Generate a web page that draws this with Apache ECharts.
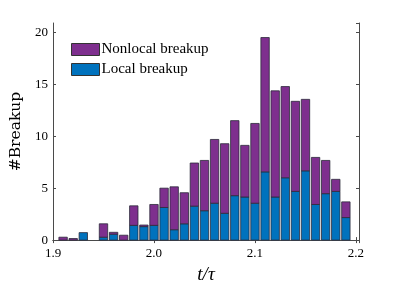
<!DOCTYPE html>
<html><head><meta charset="utf-8">
<script src="https://cdn.jsdelivr.net/npm/echarts@6/dist/echarts.min.js"></script>
<style>html,body{margin:0;padding:0;background:#fff}#c{width:399px;height:289px}</style>
</head><body><div id="c"></div>
<script>
const binCenters = [1.91,1.92,1.93,1.94,1.95,1.96,1.97,1.98,1.99,2.00,2.01,2.02,2.03,2.04,2.05,2.06,2.07,2.08,2.09,2.10,2.11,2.12,2.13,2.14,2.15,2.16,2.17,2.18,2.19];
const localBreakup = [0,0,0.72,0,0.28,0.57,0,1.42,1.3,1.42,3.14,1.0,1.57,3.27,2.83,3.55,2.58,4.28,4.15,3.55,6.57,4.15,6.0,4.69,6.67,3.43,4.47,4.69,2.17];
const nonlocalBreakup = [0.28,0.15,0,0,1.29,0.18,0.47,1.88,0.15,2.01,1.86,4.13,2.99,4.15,4.84,6.14,6.70,7.22,4.97,7.68,12.93,10.22,8.78,8.67,6.88,4.53,3.2,1.16,1.51];
const xTicks = [1.9,2.0,2.1,2.2];
const yTicks = [0,5,10,15,20];
const seriesNames = ['Local breakup','Nonlocal breakup'];

const font = 'Liberation Serif';
const font2 = 'DejaVu Serif';
const axisCol = '#4a4a4a';
const chart = echarts.init(document.getElementById('c'));
// stacked: [x, base, top]
const localData = binCenters.map((x,i)=>[x,0,localBreakup[i]]);
const nonlocalData = binCenters.map((x,i)=>[x,localBreakup[i],localBreakup[i]+nonlocalBreakup[i]]);
const barPx = 8.4;
function renderBar(params, api){
  const x = api.value(0), b = api.value(1), t = api.value(2);
  if (t - b <= 0) return null;
  const p1 = api.coord([x, t]);
  const p0 = api.coord([x, b]);
  return {
    type:'rect',
    shape:{x:p1[0]-barPx/2, y:p1[1], width:barPx, height:p0[1]-p1[1]},
    style:{fill:api.visual('color'), stroke:'#2b2b3a', lineWidth:0.8}
  };
}
const xFmt = v => xTicks.some(t=>Math.abs(t-v)<1e-6) ? v.toFixed(1) : '';
const yFmt = v => yTicks.includes(Math.round(v*1000)/1000) ? String(v) : '';
chart.setOption({
  animation:false,
  grid:{left:53,right:40,top:23,bottom:45},
  legend:{
    data:[{name:'Nonlocal breakup',icon:'rect'},{name:'Local breakup',icon:'rect'}],
    orient:'vertical', left:66, top:37, itemWidth:28, itemHeight:12, itemGap:5,
    textStyle:{fontFamily:font,fontSize:15,color:'#000',padding:[0,0,0,-3]},
    itemStyle:{borderColor:'#333',borderWidth:1}
  },
  xAxis:[{
    type:'value', min:1.9, max:2.203, interval:0.1,
    name:'t/τ', nameLocation:'middle', nameGap:24,
    nameTextStyle:{fontFamily:font,fontSize:19,fontStyle:'italic',color:'#000'},
    axisLine:{lineStyle:{color:axisCol,width:1}},
    axisTick:{inside:true,length:3,lineStyle:{color:axisCol}},
    axisLabel:{formatter:xFmt,fontFamily:font,fontSize:13,color:'#000',margin:7,showMaxLabel:false},
    splitLine:{show:false}
  },{
    type:'value', position:'top', min:1.9, max:2.203, interval:0.1,
    axisLine:{show:true,lineStyle:{color:axisCol,width:1}},
    axisTick:{inside:true,length:3,lineStyle:{color:axisCol}},
    axisLabel:{show:false}, splitLine:{show:false}
  }],
  yAxis:[{
    type:'value', min:0, max:20.9, interval:5,
    name:'#Breakup', nameLocation:'middle', nameGap:23, nameRotate:90,
    nameTextStyle:{fontFamily:font2,fontSize:15.5,color:'#000'},
    axisLine:{show:true,lineStyle:{color:axisCol,width:1}},
    axisTick:{show:true,inside:true,length:3,lineStyle:{color:axisCol}},
    axisLabel:{formatter:yFmt,fontFamily:font,fontSize:13,color:'#000',margin:5,showMaxLabel:false},
    splitLine:{show:false}
  },{
    type:'value', position:'right', min:0, max:20.9, interval:5,
    axisLine:{show:true,lineStyle:{color:axisCol,width:1}},
    axisTick:{show:true,inside:true,length:3,lineStyle:{color:axisCol}},
    axisLabel:{show:false}, splitLine:{show:false}
  }],
  series:[{
    name:seriesNames[0], type:'custom', renderItem:renderBar, data:localData,
    encode:{x:0,y:[1,2]},
    itemStyle:{color:'#0072BD',borderColor:'#2b2b3a',borderWidth:0.8}
  },{
    name:seriesNames[1], type:'custom', renderItem:renderBar, data:nonlocalData,
    encode:{x:0,y:[1,2]},
    itemStyle:{color:'#7E2F8E',borderColor:'#2b2b3a',borderWidth:0.8}
  }]
});
</script></body></html>
